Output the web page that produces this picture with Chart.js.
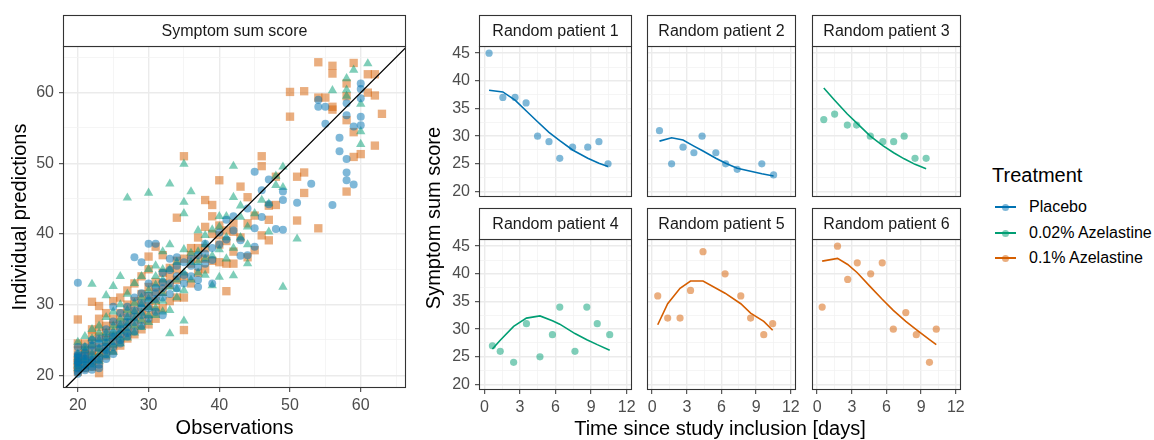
<!DOCTYPE html>
<html>
<head>
<meta charset="utf-8">
<title>Symptom sum score</title>
<script src="https://cdn.jsdelivr.net/npm/chart.js@4.4.1/dist/chart.umd.min.js"></script>
<style>
  body { margin: 0; background: #fff; width: 1154px; height: 440px; overflow: hidden; position: relative;
         font-family: 'Liberation Sans', Arial, sans-serif; }
  canvas { position: absolute; }
  .txt { position: absolute; white-space: nowrap; color: #000; }
  .kline { position: absolute; height: 2px; width: 21px; }
  .kdot { position: absolute; width: 7px; height: 7px; border-radius: 50%; }
</style>
</head>
<body>
<canvas id="scatterChart" width="420" height="440" style="left:0;top:0"></canvas>
<canvas id="p1"></canvas>
<canvas id="p2"></canvas>
<canvas id="p3"></canvas>
<canvas id="p4"></canvas>
<canvas id="p5"></canvas>
<canvas id="p6"></canvas>

<div class="txt" style="left:283px;top:206px;width:300px;text-align:center;font-size:20px;line-height:24px;transform:rotate(-90deg);transform-origin:150px 12px;">Symptom sum score</div>
<div class="txt" style="left:520px;top:416px;width:400px;text-align:center;font-size:20px;line-height:24px;">Time since study inclusion [days]</div>

<div id="legend"></div>

<script>
// Treatment groups
const groupNames = ['Placebo', '0.02% Azelastine', '0.1% Azelastine'];
const groupLine = ['#0072B2', '#009E73', '#D55E00'];
const groupFill = ['rgba(0,114,178,0.5)', 'rgba(0,158,115,0.5)', 'rgba(213,94,0,0.5)'];
const groupShape = ['circle', 'triangle', 'rect'];
const groupRadius = [4, 5.4, 5.9];

// Left panel: [observation, individual prediction]
const placeboPairs = [
  [20,20.2],[20,20.5],[20,21],[20,21.5],[20,21.8],[20,22],[20,22.5],[20,22.8],[20,23],[20,24],[20,33.1],
  [21,20.7],[21,21],[21,21.5],[21,22],[21,22.3],[21,22.8],[21,23.2],[21,24],
  [22,20.8],[22,21.2],[22,21.8],[22,22.2],[22,22.5],[22,23.5],[22,24.2],[22,25],
  [23,21],[23,21.5],[23,22.2],[23,22.6],[23,23.8],[23,24.5],[23,25.2],
  [24,22.3],[24,23],[24,23.5],[24,24],[24,24.6],[24,25.4],[24,26.5],
  [25,23],[25,24],[25,24.8],[25,25.4],[25,26],[25,27.6],[25,29.7],
  [26,24.5],[26,25],[26,25.8],[26,26.5],[26,27.2],[26,28.8],
  [27,25.5],[27,26],[27,26.8],[27,27.5],[27,28.3],[27,29.7],
  [28,26.2],[28,27.5],[28,28.3],[28,29.2],[28,31],[28,36.7],
  [29,27],[29,28.5],[29,29.5],[29,30.2],[29,31.6],[29,36],
  [30,28],[30,29.5],[30,30.5],[30,31.3],[30,33],[30,38.6],
  [31,29],[31,30.8],[31,31.6],[31,32.4],[31,38.6],
  [32,28.5],[32,31],[32,32.3],[32,33.2],[32,34.5],
  [33,31.5],[33,33],[33,34.9],[33,36.5],
  [34,32.3],[34,34],[34,35.5],[34,36.7],
  [35,33],[35,34.2],[35,36],
  [36,34],[36,35.5],[36,36.5],
  [37,32.5],[37,33.5],[37,35.3],[37,37],
  [38,35.8],[38,37.2],[38,38.6],
  [39,33],[39,36.3],[39,38],
  [40,38.5],[40,40.2],[41,39.2],[41,42],[42,40.5],[42,42.5],[43,36.9],[43,39.1],[44,37],[44,43.6],
  [45,38.2],[45,40.8],[45,48.8],[46,42.4],[46,46.2],[47,47.7],[47,44.2],[48,40.7],
  [49,40.6],[49,44.8],[49,46],[51,44.4],[53,47.1],[54,58],[54,59],[55,55.6],[55,58],[56,44.1],
  [57,51.7],[57,53.6],[58,47.6],[58,48.7],[58,50.6],[58,56.8],[58,58.5],[59,47],[59,55.2],
  [60,55.4],[60,56.6],[60,59.2],[60,60.5],[60,61.3]
];
const azel002Pairs = [
  [20,21],[20,21.5],[20,22],[20,22.5],[20,23],[20,24.7],
  [21,21.3],[21,22],[21,22.5],[21,23.5],[21,24],[21,25.5],
  [22,21.5],[22,22.2],[22,23],[22,24.3],[22,25.2],[22,26.5],[22,32.9],
  [23,22],[23,23],[23,23.8],[23,25],[23,26],[23,27],
  [24,22.8],[24,23.6],[24,24.5],[24,25.2],[24,26],[24,28.2],[24,31.3],
  [25,23.3],[25,24.3],[25,25.5],[25,26.2],[25,27],[25,29],[25,32.6],
  [26,24.5],[26,25.3],[26,26.2],[26,27.1],[26,28],[26,30],[26,34],
  [27,25.3],[27,26.3],[27,27.3],[27,28.2],[27,29.2],[27,31.5],[27,45.1],
  [28,26],[28,27],[28,28],[28,29],[28,30.2],[28,33],
  [29,26.8],[29,27.8],[29,28.8],[29,30],[29,31],[29,34],
  [30,27.5],[30,28.5],[30,29.6],[30,30.8],[30,32],[30,35],[30,45.8],
  [31,28.5],[31,29.5],[31,30.5],[31,32.8],[31,34],[31,35.5],
  [32,29],[32,30.5],[32,31.6],[32,33.5],[32,35],[32,37.5],
  [33,25.9],[33,29.2],[33,32.5],[33,35],[33,38.5],[33,47.1],
  [34,31],[34,32.2],[34,33.5],[34,36],
  [35,27.7],[35,32],[35,34.5],[35,37.8],[35,42.9],[35,44.5],[35,49.9],
  [36,33.5],[36,36],[36,37.3],[36,46],
  [37,34.5],[37,36],[37,37.5],[37,40.5],
  [38,34.2],[38,36.5],[38,38.5],[38,39.8],
  [39,32.7],[39,36.9],[39,40.6],
  [40,33.9],[40,37.8],[40,41],[40,42.5],
  [41,36.5],[41,39.5],[41,42.5],
  [42,34.1],[42,38],[42,45.2],[42,49.6],
  [43,39.5],[43,42.4],[43,44],
  [44,35.8],[44,38.5],[44,41],
  [45,42.9],[46,44.8],[47,40.3],[47,44.3],[48,46.9],[48,48.2],
  [49,32.5],[49,46.6],[49,49.5],[51,39.3],
  [56,60.3],[58,59.5],[58,60.4],[58,62],[59,63.2],
  [60,52.7],[60,54.5],[60,58.4],[61,64.1]
];
const azel01Pairs = [
  [20,20.5],[20,21],[20,21.5],[20,22],[20,22.5],[20,23.5],[20,24.5],[20,27.9],
  [21,21],[21,21.7],[21,22.3],[21,23],[21,23.5],[21,24.5],
  [22,21.2],[22,22],[22,22.8],[22,23.5],[22,24.5],[22,25.5],[22,26.5],[22,30.4],
  [23,20.3],[23,21.5],[23,22.5],[23,23.2],[23,24],[23,25.5],[23,26.8],[23,28],[23,29.8],
  [24,22.8],[24,24],[24,25],[24,26],[24,27],[24,28.8],
  [25,23.5],[25,24.5],[25,25.6],[25,27],[25,28],[25,30.5],
  [26,24.2],[26,25.3],[26,26.5],[26,27.6],[26,28.8],[26,31],
  [27,25.2],[27,26.3],[27,27.5],[27,28.8],[27,30],[27,32],
  [28,25.8],[28,27],[28,28.2],[28,29.3],[28,30.5],[28,33],
  [29,26.5],[29,27.8],[29,29],[29,30.3],[29,31.5],[29,34],
  [30,27.2],[30,28.5],[30,29.8],[30,31.2],[30,32.5],[30,35],[30,36.8],
  [31,28],[31,29.2],[31,30.5],[31,31.8],[31,33.2],[31,38.2],
  [32,29.5],[32,31.8],[32,33],[32,34.5],[32,37],
  [33,30.5],[33,32.8],[33,34],[33,35.2],
  [34,31],[34,33.5],[34,35],[34,36.2],[34,42.3],
  [35,26.4],[35,31],[35,34],[35,36.5],[35,51],
  [36,33],[36,35.8],[36,37],[36,38],
  [37,34.5],[37,36.5],[37,38],[37,39.5],
  [38,35],[38,36.5],[38,38],[38,41],[38,44.8],
  [39,36.2],[39,40],[39,42.5],[39,44.1],
  [40,36],[40,38.5],[40,39.8],[40,41.2],[40,47.6],
  [41,31.9],[41,35.8],[41,39],[41,40.5],
  [42,35.8],[42,37.5],[42,40.3],[42,41.5],
  [43,39.5],[43,46.7],
  [44,36.7],[44,41.5],[44,45.2],
  [45,37.7],[45,42.6],
  [46,39.8],[46,49.6],[46,51],
  [47,39.1],[47,42],[47,44],
  [48,44.1],[48,48.1],
  [50,56.6],[50,60.1],[51,41.9],[51,48.1],[52,45.8],[52,48.7],[52,60.2],
  [54,40.8],[54,59.3],[54,64.3],[55,59.3],[56,57.6],[56,58],[56,62.7],[56,63.8],
  [58,46],[58,56.1],[58,59.5],[58,61.3],[59,50.9],[59,54.4],[59,64.2],[60,51.3],
  [61,60],[61,62.6],[62,52.5],[62,59.6],[62,62.6],[63,57]
];

// Left panel axes
const leftMajor = [20, 30, 40, 50, 60];
const leftMinor = [25, 35, 45, 55, 65];

// Random patients: observation times, observed scores, model predictions
const patientNames = ['Random patient 1', 'Random patient 2', 'Random patient 3',
                      'Random patient 4', 'Random patient 5', 'Random patient 6'];
const patientGroup = [0, 0, 1, 1, 2, 2];
const patientTimes = [
  [0.4, 1.56, 2.59, 3.52, 4.49, 5.45, 6.36, 7.44, 8.72, 9.66, 10.43],
  [0.63, 1.68, 2.67, 3.61, 4.32, 5.51, 6.36, 7.36, 9.49, 10.51],
  [0.57, 1.51, 2.61, 3.41, 4.6, 5.68, 6.62, 7.53, 8.47, 9.43],
  [0.68, 1.34, 2.47, 3.55, 4.69, 5.74, 6.36, 7.64, 8.64, 9.52, 10.57],
  [0.48, 1.34, 2.41, 3.32, 4.4, 6.31, 7.67, 8.52, 9.66, 10.43],
  [0.43, 1.76, 2.64, 3.47, 4.63, 5.63, 6.59, 7.67, 8.58, 9.72, 10.31]
];
const patientObs = [
  [45, 37, 37, 36, 30, 29, 26, 28, 28, 29, 25],
  [31, 25, 28, 27, 30, 27, 25, 24, 25, 23],
  [33, 34, 32, 32, 30, 29, 29, 30, 26, 26],
  [27, 26, 24, 31, 25, 29, 34, 26, 34, 31, 29],
  [36, 32, 32, 37, 44, 40, 36, 32, 29, 31],
  [34, 45, 39, 42, 40, 42, 30, 33, 29, 24, 30]
];
const patientPred = [
  [38.3, 38.0, 36.5, 34.6, 32.6, 30.7, 29.2, 27.5, 26.0, 25.1, 24.5],
  [29.1, 29.7, 29.3, 28.2, 27.4, 26.0, 25.1, 24.2, 23.2, 22.8],
  [38.7, 36.5, 34.0, 32.4, 30.0, 28.3, 27.0, 25.9, 24.9, 24.1],
  [26.4, 28.0, 30.5, 32.0, 32.4, 31.5, 30.9, 29.2, 28.1, 27.2, 26.2],
  [30.8, 34.6, 37.4, 38.7, 38.7, 36.5, 34.6, 32.9, 31.4, 29.8],
  [42.3, 42.8, 41.7, 40.2, 37.6, 35.4, 33.4, 31.4, 29.9, 28.1, 27.2]
];
const timeMajor = [0, 3, 6, 9, 12];
const timeMinor = [1.5, 4.5, 7.5, 10.5];
const scoreMajor = [20, 25, 30, 35, 40, 45];
const scoreMinor = [22.5, 27.5, 32.5, 37.5, 42.5];

Chart.defaults.font.family = "'Liberation Sans', Arial, sans-serif";

// Panel border and facet strip, drawn like ggplot's theme_bw
const panelFrame = {
  id: 'panelFrame',
  afterDraw(chart, args, opts) {
    const {ctx, chartArea: a} = chart;
    const w = a.right - a.left;
    const top = a.top - opts.height;
    ctx.save();
    ctx.strokeStyle = '#333333';
    ctx.lineWidth = 1.1;
    ctx.strokeRect(a.left + 0.5, a.top + 0.5, w - 1, a.bottom - a.top - 1);
    ctx.fillStyle = '#ffffff';
    ctx.fillRect(a.left + 0.5, top + 0.5, w - 1, opts.height);
    ctx.strokeRect(a.left + 0.5, top + 0.5, w - 1, opts.height);
    ctx.fillStyle = '#1A1A1A';
    ctx.font = "16px 'Liberation Sans', Arial, sans-serif";
    ctx.textAlign = 'center';
    ctx.textBaseline = 'middle';
    ctx.fillText(opts.text, (a.left + a.right) / 2, top + opts.height / 2 + 1);
    ctx.restore();
  }
};

// Linear axis with major + minor grid lines, labels only on majors
function makeAxis(min, max, major, minor, size, showLabels, pad, title) {
  const isMajor = v => major.includes(v);
  return {
    type: 'linear',
    min: min,
    max: max,
    bounds: 'data',
    afterBuildTicks: scale => {
      scale.ticks = major.concat(minor).filter(v => v >= min && v <= max)
        .sort((a, b) => a - b).map(v => ({value: v}));
    },
    afterFit: scale => {
      if (scale.isHorizontal()) scale.height = size; else scale.width = size;
      scale.paddingTop = 0; scale.paddingBottom = 0;
      scale.paddingLeft = 0; scale.paddingRight = 0;
    },
    ticks: {
      display: showLabels,
      autoSkip: false,
      maxRotation: 0,
      padding: pad,
      color: '#4D4D4D',
      font: {size: 16},
      callback: v => isMajor(v) ? String(v) : ''
    },
    grid: {
      color: c => (c.tick && isMajor(c.tick.value)) ? '#EBEBEB' : '#F3F3F3',
      lineWidth: c => (c.tick && isMajor(c.tick.value)) ? 1.4 : 0.8,
      drawTicks: showLabels,
      tickLength: 4,
      tickWidth: 1,
      tickColor: c => (c.tick && isMajor(c.tick.value)) ? '#333333' : 'rgba(0,0,0,0)'
    },
    border: {display: false},
    title: title || {display: false}
  };
}

// Left scatter: observations vs individual predictions
function createScatterChart() {
  const pairsByGroup = [placeboPairs, azel002Pairs, azel01Pairs];
  const datasets = [{
    label: 'identity',
    data: [{x: 17.9, y: 17.9}, {x: 66.6, y: 66.6}],
    showLine: true,
    borderColor: '#000000',
    borderWidth: 1.3,
    pointRadius: 0
  }];
  pairsByGroup.forEach((pairs, g) => {
    datasets.push({
      label: groupNames[g],
      data: pairs.map(p => ({x: p[0], y: p[1]})),
      pointStyle: groupShape[g],
      pointRadius: groupRadius[g],
      backgroundColor: groupFill[g],
      borderWidth: 0
    });
  });

  new Chart(document.getElementById('scatterChart'), {
    type: 'scatter',
    data: {datasets: datasets},
    plugins: [panelFrame],
    options: {
      responsive: false,
      animation: false,
      events: [],
      layout: {padding: {top: 46, right: 14, left: 0, bottom: 0}},
      plugins: {
        legend: {display: false},
        tooltip: {enabled: false},
        panelFrame: {text: 'Symptom sum score', height: 31}
      },
      scales: {
        x: makeAxis(17.9, 66.4, leftMajor, leftMinor, 52, true, 4,
          {display: true, text: 'Observations', color: '#000', font: {size: 20}, padding: {top: 0, bottom: 0}}),
        y: makeAxis(18.2, 66.6, leftMajor, leftMinor, 63, true, 5,
          {display: true, text: 'Individual predictions', color: '#000', font: {size: 20}, padding: {top: 8, bottom: 0}})
      }
    }
  });
}

// Facet panels for the six random patients
function createPatientCharts() {
  const colLeft = [479, 643, 808];
  const rowTop = [46, 239];
  const plotW = 153, plotH = 151;

  patientNames.forEach((name, i) => {
    const row = Math.floor(i / 3), col = i % 3;
    const g = patientGroup[i];
    const yW = col === 0 ? 46 : 0;
    const xH = row === 1 ? 50 : 0;
    const padBottom = row === 1 ? 0 : 8;
    const canvas = document.getElementById('p' + (i + 1));
    canvas.width = yW + plotW + 6;
    canvas.height = 32 + plotH + xH + padBottom;
    canvas.style.left = (colLeft[col] - yW) + 'px';
    canvas.style.top = (rowTop[row] - 32) + 'px';

    new Chart(canvas, {
      type: 'scatter',
      data: {
        datasets: [{
          label: 'Prediction',
          data: patientTimes[i].map((t, k) => ({x: t, y: patientPred[i][k]})),
          showLine: true,
          borderColor: groupLine[g],
          borderWidth: 1.6,
          pointRadius: 0
        }, {
          label: 'Observed',
          data: patientTimes[i].map((t, k) => ({x: t, y: patientObs[i][k]})),
          pointRadius: 3.6,
          backgroundColor: groupFill[g],
          borderWidth: 0
        }]
      },
      plugins: [panelFrame],
      options: {
        responsive: false,
        animation: false,
        events: [],
        layout: {padding: {top: 32, right: 6, left: 0, bottom: padBottom}},
        plugins: {
          legend: {display: false},
          tooltip: {enabled: false},
          panelFrame: {text: name, height: 31}
        },
        scales: {
          x: makeAxis(-0.45, 12.45, timeMajor, timeMinor, xH, row === 1, 4),
          y: makeAxis(19.0, 46.3, scoreMajor, scoreMinor, yW, col === 0, 5)
        }
      }
    });
  });
}

// Legend built as plain page text
function createLegend() {
  const box = document.getElementById('legend');
  let html = '<div class="txt" style="left:992px;top:163px;font-size:20px;line-height:24px;">Treatment</div>';
  const centers = [207, 233, 258];
  groupNames.forEach((n, g) => {
    const cy = centers[g];
    html += '<div class="kline" style="left:995px;top:' + (cy - 1) + 'px;background:' + groupLine[g] + '"></div>';
    html += '<div class="kdot" style="left:1002px;top:' + (cy - 3.5) + 'px;background:' + groupFill[g] + '"></div>';
    html += '<div class="txt" style="left:1029px;top:' + (cy - 10) + 'px;font-size:16px;line-height:20px;">' + n + '</div>';
  });
  box.innerHTML = html;
}

createScatterChart();
createPatientCharts();
createLegend();
</script>
</body>
</html>
